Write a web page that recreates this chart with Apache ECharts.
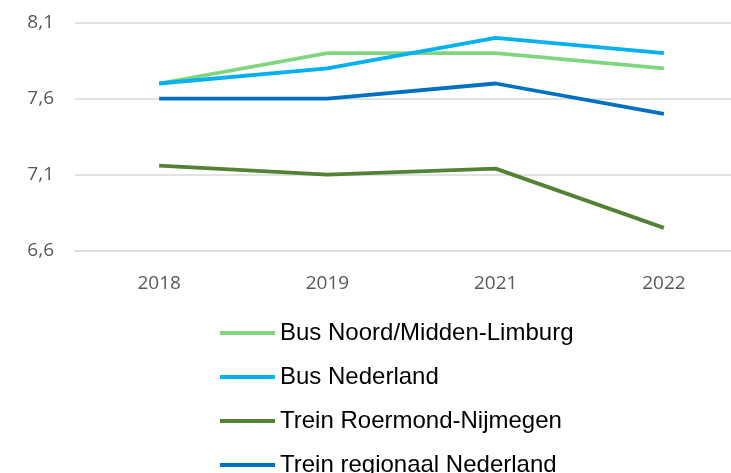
<!DOCTYPE html>
<html>
<head>
<meta charset="utf-8">
<script src="https://cdn.jsdelivr.net/npm/echarts@6/dist/echarts.min.js"></script>
<style>
html, body { margin: 0; padding: 0; background: #fff; overflow: hidden; }
#chart { width: 748px; height: 473px; }
</style>
</head>
<body>
<div id="chart"></div>
<script>
var years = ['2018', '2019', '2021', '2022'];

var busLimburg = [7.7, 7.9, 7.9, 7.8];
var busNederland = [7.7, 7.8, 8.0, 7.9];
var treinRoermond = [7.16, 7.1, 7.14, 6.75];
var treinRegionaal = [7.6, 7.6, 7.7, 7.5];

var names = ['Bus Noord/Midden-Limburg', 'Bus Nederland', 'Trein Roermond-Nijmegen', 'Trein regionaal Nederland'];
var colors = ['#80D680', '#00B0F0', '#548235', '#0070C0'];

var myChart = echarts.init(document.getElementById('chart'));

function lijn(i, data) {
	return {
		name: names[i],
		type: 'line',
		data: data,
		showSymbol: false,
		symbol: 'none',
		animation: false,
		lineStyle: { width: 3.8, color: colors[i] },
		itemStyle: { color: colors[i] }
	};
}

var option = {
	color: colors,
	grid: {
		left: 75,
		right: 0,
		top: 22.7,
		bottom: 222.3
	},
	legend: {
		orient: 'vertical',
		left: 220,
		top: 321,
		height: 300,
		padding: 0,
		icon: 'rect',
		itemWidth: 55,
		itemHeight: 4,
		itemGap: 20,
		textStyle: {
			fontFamily: 'Liberation Sans',
			fontSize: 24,
			lineHeight: 24,
			color: '#000'
		},
		data: names
	},
	xAxis: {
		type: 'category',
		data: years,
		boundaryGap: true,
		axisLine: { show: true, lineStyle: { color: '#D9D9D9', width: 1.5 } },
		axisTick: { show: false },
		axisLabel: {
			color: '#595959',
			fontFamily: 'Open Sans',
			fontSize: 19,
			margin: 23
		}
	},
	yAxis: {
		type: 'value',
		min: 6.6,
		max: 8.1,
		interval: 0.5,
		axisLine: { show: false },
		axisTick: { show: false },
		splitLine: { lineStyle: { color: '#D9D9D9', width: 1.5 } },
		axisLabel: {
			color: '#595959',
			fontFamily: 'Open Sans',
			fontSize: 19,
			margin: 21,
			formatter: function (v) { return v.toFixed(1).replace('.', ','); }
		}
	},
	series: [
		lijn(0, busLimburg),
		lijn(1, busNederland),
		lijn(2, treinRoermond),
		lijn(3, treinRegionaal)
	]
};

myChart.setOption(option);
</script>
</body>
</html>
